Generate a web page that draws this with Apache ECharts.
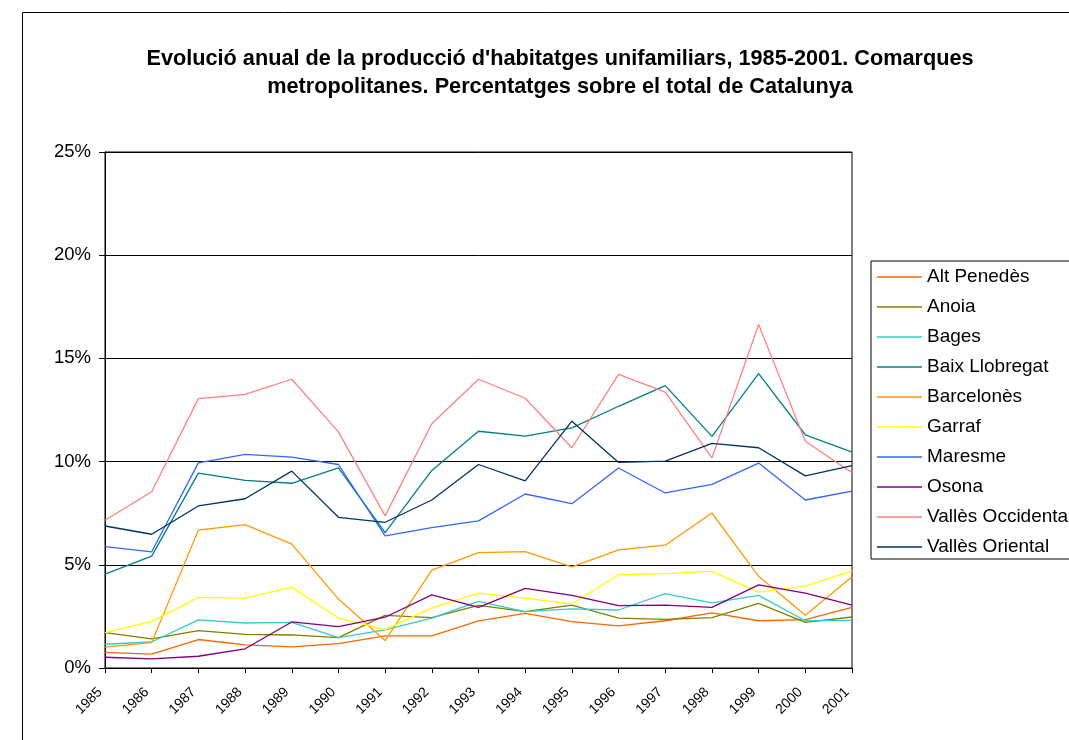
<!DOCTYPE html>
<html>
<head>
<meta charset="utf-8">
<script src="https://cdn.jsdelivr.net/npm/echarts@6/dist/echarts.min.js"></script>
<style>
html,body{margin:0;padding:0;background:#fff;}
#chart{width:1069px;height:740px;}
</style>
</head>
<body>
<div id="chart"></div>
<script>
const titleText = "Evolució anual de la producció d'habitatges unifamiliars, 1985-2001. Comarques\nmetropolitanes. Percentatges sobre el total de Catalunya";
const years = ['1985','1986','1987','1988','1989','1990','1991','1992','1993','1994','1995','1996','1997','1998','1999','2000','2001'];
const seriesNames = ['Alt Penedès','Anoia','Bages','Baix Llobregat','Barcelonès','Garraf','Maresme','Osona','Vallès Occidental','Vallès Oriental'];
const altPenedes = [0.76, 0.67, 1.38, 1.12, 1.02, 1.18, 1.56, 1.56, 2.28, 2.65, 2.25, 2.04, 2.29, 2.67, 2.29, 2.34, 2.94];
const anoia = [1.71, 1.41, 1.81, 1.63, 1.60, 1.47, 2.55, 2.44, 3.03, 2.73, 3.05, 2.42, 2.36, 2.44, 3.13, 2.21, 2.47];
const bages = [1.15, 1.26, 2.33, 2.18, 2.21, 1.47, 1.85, 2.42, 3.23, 2.73, 2.86, 2.81, 3.60, 3.16, 3.52, 2.29, 2.31];
const baixLlobregat = [4.55, 5.42, 9.44, 9.09, 8.95, 9.70, 6.56, 9.57, 11.47, 11.23, 11.63, 12.68, 13.68, 11.22, 14.26, 11.30, 10.46];
const barcelones = [1.01, 1.23, 6.68, 6.95, 6.00, 3.34, 1.33, 4.74, 5.59, 5.64, 4.90, 5.72, 5.95, 7.51, 4.44, 2.55, 4.42];
const garraf = [1.71, 2.26, 3.42, 3.39, 3.92, 2.42, 1.86, 2.91, 3.63, 3.39, 3.10, 4.52, 4.57, 4.68, 3.68, 3.97, 4.70];
const maresme = [5.88, 5.63, 9.94, 10.35, 10.22, 9.86, 6.40, 6.80, 7.13, 8.43, 7.96, 9.69, 8.48, 8.90, 9.93, 8.14, 8.57];
const osona = [0.52, 0.44, 0.57, 0.93, 2.23, 2.00, 2.46, 3.54, 2.94, 3.86, 3.52, 3.02, 3.05, 2.94, 4.03, 3.63, 3.05];
const vallesOccidental = [7.16, 8.54, 13.05, 13.26, 13.99, 11.44, 7.37, 11.83, 13.99, 13.07, 10.67, 14.23, 13.37, 10.18, 16.64, 10.99, 9.46];
const vallesOriental = [6.88, 6.48, 7.85, 8.20, 9.54, 7.30, 7.06, 8.14, 9.86, 9.07, 11.96, 9.96, 10.02, 10.88, 10.67, 9.31, 9.81];

const seriesData = [altPenedes, anoia, bages, baixLlobregat, barcelones, garraf, maresme, osona, vallesOccidental, vallesOriental];
const colors = ['#FF6600','#808000','#33CCCC','#008080','#FF9900','#FFFF00','#3366FF','#800080','#FF8080','#003366'];
const FONT = "'Liberation Sans', Arial, sans-serif";

const chart = echarts.init(document.getElementById('chart'), null, {renderer:'canvas'});
chart.setOption({
  backgroundColor: '#fff',
  animation: false,
  graphic: [{
    type: 'rect',
    shape: {x: 22.5, y: 12.5, width: 1200, height: 900},
    style: {fill: 'none', stroke: '#000', lineWidth: 1},
    z: 0
  }],
  title: {
    text: titleText,
    left: 555,
    textAlign: 'center',
    top: 40,
    textStyle: {fontFamily: FONT, fontSize: 21.7, fontWeight: 'bold', color: '#000', lineHeight: 28}
  },
  legend: {
    orient: 'vertical',
    left: 871,
    top: 261,
    padding: [6, 40, 2, 6],
    itemGap: 10,
    itemWidth: 45,
    itemHeight: 1.5,
    icon: 'rect',
    borderColor: '#000',
    borderWidth: 1,
    backgroundColor: '#fff',
    data: seriesNames,
    textStyle: {fontFamily: FONT, fontSize: 19, color: '#000', lineHeight: 20}
  },
  grid: {
    left: 105, right: 217, top: 152, bottom: 72,
    show: true, borderColor: '#000', borderWidth: 1, containLabel: false
  },
  xAxis: {
    type: 'category',
    data: years,
    boundaryGap: false,
    axisLine: {lineStyle: {color: '#000', width: 1}},
    axisTick: {show: true, length: 5, inside: false, alignWithLabel: true, interval: 0, lineStyle: {color: '#000'}},
    axisLabel: {interval: 0, rotate: 45, margin: 17, padding: [0, 7, 0, 0], fontFamily: FONT, fontSize: 14, color: '#000'},
    splitLine: {show: false}
  },
  yAxis: {
    type: 'value',
    min: 0, max: 25, interval: 5,
    axisLine: {show: true, lineStyle: {color: '#000', width: 1}},
    axisTick: {show: true, length: 6, lineStyle: {color: '#000'}},
    axisLabel: {formatter: '{value}%', margin: 14, fontFamily: FONT, fontSize: 18.5, color: '#000'},
    splitLine: {show: true, lineStyle: {color: '#000', width: 1}}
  },
  series: seriesNames.map((name, i) => ({
    name: name,
    type: 'line',
    data: seriesData[i],
    symbol: 'none',
    showSymbol: false,
    color: colors[i],
    lineStyle: {color: colors[i], width: 1.3},
    itemStyle: {color: colors[i]}
  }))
});
</script>
</body>
</html>
